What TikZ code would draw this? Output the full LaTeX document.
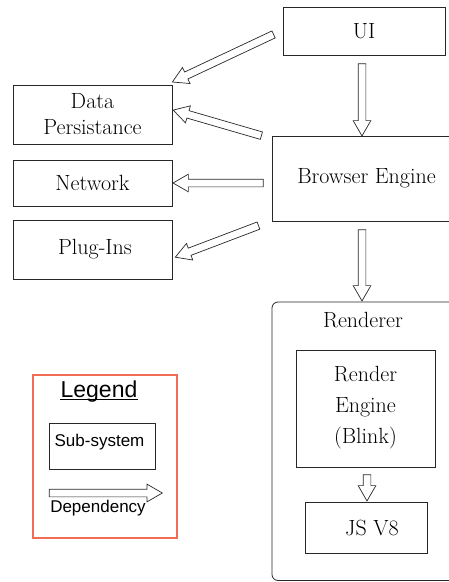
\documentclass[tikz,border=0pt]{standalone}
\usepackage{fontspec}
\newfontfamily\legendfont{Liberation Sans}
\usetikzlibrary{calc,shapes.arrows}

\definecolor{legendred}{RGB}{240,108,84}
\definecolor{boxline}{RGB}{40,40,40}

\tikzset{
  boxtext/.style={font=\fontsize{22}{26}\selectfont},
  subsys/.style={draw=boxline, line width=0.8pt, inner sep=0pt, align=center, boxtext},
  legendtext/.style={font=\legendfont\fontsize{17}{20}\selectfont, inner sep=0pt},
  deparrowshape/.style={single arrow, draw=boxline, line width=0.7pt, fill=white,
    inner sep=3.5pt, single arrow head extend=5pt, single arrow tip angle=60,
    minimum width=0pt, outer sep=0pt},
}

% hollow dependency arrow from the first coordinate to the second (tip)
\newcommand\deparrow[2]{%
  \path let \p1=($(#2)-(#1)$), \n1={veclen(\x1,\y1)} in
    (#1) -- (#2) node[deparrowshape, midway, sloped, allow upside down,
      minimum height=\n1]{};}

\begin{document}
\begin{tikzpicture}[x=1pt, y=-1pt]
\useasboundingbox (0,0) rectangle (449,582);

% sub-systems
\node[subsys, minimum width=162pt, minimum height=48pt] (ui) at (364,31) {UI};
\node[subsys, minimum width=159pt, minimum height=59pt] (dp) at (92.5,114.5) {Data\\Persistance};
\node[subsys, minimum width=159pt, minimum height=46pt] (net) at (92.5,183) {Network};
\node[subsys, minimum width=159pt, minimum height=59pt] (plug) at (92.5,249.5) {\hspace*{5pt}Plug-Ins};
\node[subsys, minimum width=180pt, minimum height=85pt] (be) at (362,178.5) {\hspace*{9pt}Browser Engine};

% renderer container
\node[draw=boxline, line width=0.8pt, rounded corners=6pt, minimum width=188pt,
  minimum height=278.5pt, inner sep=0pt] (rend) at (366,441.25) {};
\node[boxtext, inner sep=0pt] (rendlabel) at (363,320) {Renderer};
\node[subsys, minimum width=139pt, minimum height=117pt, font=\fontsize{22}{31}\selectfont]
  (re) at (365.5,408.5) {Render\\Engine\\(Blink)\rule[-8pt]{0pt}{0pt}};
\node[subsys, minimum width=122pt, minimum height=51pt] (js) at (366,527.5) {\hspace*{12pt}JS V8};

% legend
\node[draw=legendred, line width=1.2pt, minimum width=144pt, minimum height=163pt,
  inner sep=0pt] (legend) at (105,456.5) {};
\node[font=\legendfont\fontsize{23}{26}\selectfont, inner sep=0pt, anchor=base]
  (legendtitle) at (99,397) {Legend};
\draw[line width=1.1pt] ($(legendtitle.base west)+(0,2.5)$) -- ($(legendtitle.base east)+(0,2.5)$);
\node[draw=boxline, line width=0.8pt, minimum width=106pt, minimum height=46pt,
  inner sep=0pt] (sub) at (102,446) {};
\node[legendtext] (sublabel) at (99.5,442) {Sub-system};
\node[legendtext] (deplabel) at (98,508) {Dependency};

% arrow end points
\coordinate (a1s) at ($(ui.west)+(-6,2)$);   \coordinate (a1t) at ($(dp.north east)+(3,-4)$);
\coordinate (a2s) at ($(be.north west)+(-7,1)$); \coordinate (a2t) at ($(dp.east)+(4,-3.5)$);
\coordinate (a3s) at ($(be.west)+(-5,4.5)$);  \coordinate (a3t) at ($(net.east)+(4,0)$);
\coordinate (a4s) at ($(be.south west)+(-10,3)$); \coordinate (a4t) at ($(plug.east)+(6,6.5)$);
\coordinate (a5s) at ($(ui.south)+(-2,5)$);   \coordinate (a5t) at ($(be.north)+(0,-3)$);
\coordinate (a6s) at ($(be.south)+(0,5)$);    \coordinate (a6t) at ($(rend.north)+(-4,-4)$);
\coordinate (a7s) at ($(re.south)+(1.5,4)$);  \coordinate (a7t) at ($(js.north)+(1,-4)$);
\coordinate (a8s) at (46,493);                \coordinate (a8t) at (159,493);

% dependencies
\deparrow{a1s}{a1t}
\deparrow{a2s}{a2t}
\deparrow{a3s}{a3t}
\deparrow{a4s}{a4t}
\deparrow{a5s}{a5t}
\deparrow{a6s}{a6t}
\deparrow{a7s}{a7t}
\deparrow{a8s}{a8t}
\end{tikzpicture}
\end{document}
